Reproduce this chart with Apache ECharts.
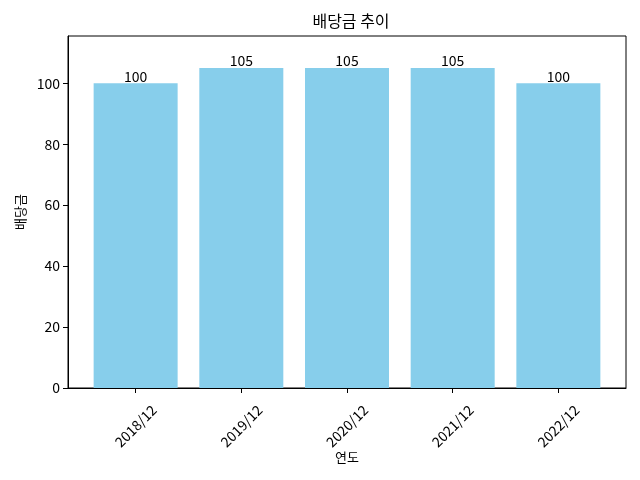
<!DOCTYPE html>
<html>
<head>
<meta charset="utf-8">
<script src="https://cdn.jsdelivr.net/npm/echarts@6/dist/echarts.min.js"></script>
<style>
  html, body { margin: 0; padding: 0; background: #fff; }
  #main { width: 640px; height: 480px; }
</style>
</head>
<body>
<div id="main"></div>
<script>
// 데이터
var categories = ['2018/12', '2019/12', '2020/12', '2021/12', '2022/12'];
var dividends = [100, 105, 105, 105, 100];
var yTicks = [0, 20, 40, 60, 80, 100];
var xTicks = [0, 1, 2, 3, 4];

var myChart = echarts.init(document.getElementById('main'));
var font = '"Noto Sans CJK KR", "Noto Sans", sans-serif';

var barData = dividends.map(function (v, i) { return [i, v]; });

var option = {
    animation: false,
    textStyle: { fontFamily: font },
    title: {
        text: '배당금 추이',
        left: 346,
        top: 8,
        textAlign: 'center',
        textStyle: { fontFamily: font, fontSize: 16, fontWeight: 'normal', color: '#000' }
    },
    grid: {
        left: 68,
        right: 14,
        top: 36,
        bottom: 92,
        show: true,
        borderColor: '#000',
        borderWidth: 1
    },
    xAxis: {
        type: 'value',
        min: -0.64,
        max: 4.64,
        name: '연도',
        nameLocation: 'middle',
        nameGap: 63,
        nameMoveOverlap: false,
        nameTextStyle: { fontFamily: font, fontSize: 13, color: '#000' },
        splitLine: { show: false },
        axisLine: { show: true, onZero: false, lineStyle: { color: '#000', width: 1 } },
        axisTick: { show: true, customValues: xTicks, length: 5, lineStyle: { color: '#000' } },
        axisLabel: {
            customValues: xTicks,
            rotate: 45,
            align: 'center',
            verticalAlign: 'middle',
            margin: 38,
            fontFamily: font,
            fontSize: 14,
            color: '#000',
            formatter: function (v) { return categories[Math.round(v)]; }
        }
    },
    yAxis: {
        type: 'value',
        min: 0,
        max: 115.5,
        name: '배당금',
        nameLocation: 'middle',
        nameGap: 41,
        nameMoveOverlap: false,
        nameTextStyle: { fontFamily: font, fontSize: 13, color: '#000' },
        splitLine: { show: false },
        axisLine: { show: true, onZero: false, lineStyle: { color: '#000', width: 1 } },
        axisTick: { show: true, customValues: yTicks, length: 5, lineStyle: { color: '#000' } },
        axisLabel: {
            customValues: yTicks,
            margin: 8,
            fontFamily: font,
            fontSize: 14,
            color: '#000'
        }
    },
    series: [
        {
            name: '배당금',
            type: 'bar',
            barWidth: 84,
            data: barData,
            itemStyle: { color: '#87CEEB' },
            label: {
                show: true,
                position: 'top',
                distance: 0,
                fontFamily: font,
                fontSize: 14,
                color: '#000',
                formatter: function (p) { return p.value[1]; }
            }
        }
    ]
};

myChart.setOption(option);
</script>
</body>
</html>
